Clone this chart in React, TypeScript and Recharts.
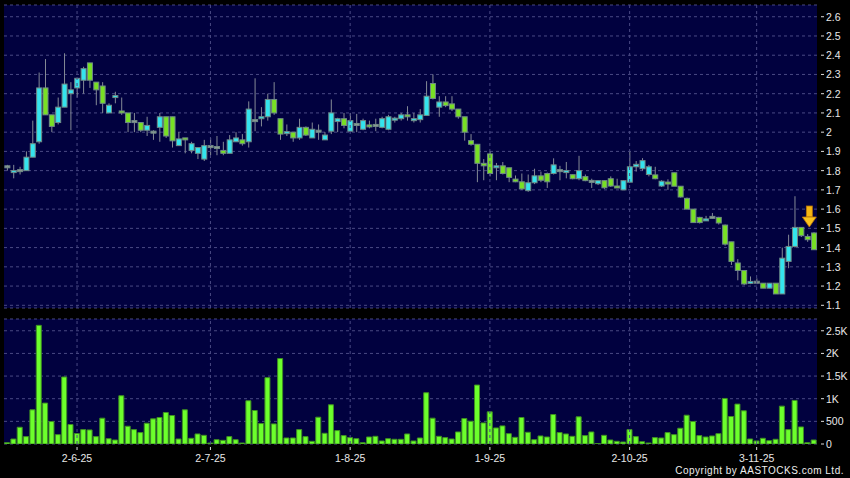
import React from "react";
import { ComposedChart, Bar, XAxis, YAxis, CartesianGrid, ReferenceLine, ReferenceDot } from "recharts";

// trading day index, 1..128
const days = Array.from({ length: 128 }, (_, i) => i + 1);

const openPx = [
  1.82, 1.79, 1.8, 1.8, 1.87, 1.95, 2.23, 2.09, 2.05, 2.13,
  2.2, 2.23, 2.27, 2.36, 2.26, 2.24, 2.1, 2.18, 2.11, 2.1,
  2.055, 2.05, 2.01, 2.0, 2.025, 2.08, 2.08, 1.93, 1.97, 1.905,
  1.89, 1.86, 1.925, 1.92, 1.905, 1.89, 1.95, 1.96, 1.95, 2.06,
  2.07, 2.08, 2.17, 2.07, 1.995, 2.0, 1.97, 2.025, 1.97, 2.005,
  1.96, 2.005, 2.055, 2.07, 2.005, 2.04, 2.015, 2.035, 2.035, 2.025,
  2.015, 2.065, 2.07, 2.09, 2.06, 2.065, 2.087, 2.253, 2.13, 2.157,
  2.147, 2.12, 2.08, 1.956, 1.937, 1.838, 1.887, 1.815, 1.825, 1.815,
  1.756, 1.742, 1.696, 1.737, 1.773, 1.785, 1.785, 1.8, 1.79, 1.779,
  1.758, 1.769, 1.744, 1.732, 1.748, 1.758, 1.72, 1.7, 1.74, 1.82,
  1.81, 1.78, 1.778, 1.72, 1.738, 1.789, 1.719, 1.656, 1.6, 1.557,
  1.54, 1.557, 1.557, 1.517, 1.43, 1.32, 1.281, 1.215, 1.22, 1.215,
  1.189, 1.215, 1.159, 1.328, 1.406, 1.505, 1.458, 1.476,
];

const highPx = [
  1.83, 1.83, 1.82, 1.9, 2.06, 2.31, 2.38, 2.09, 2.18, 2.41,
  2.26, 2.28, 2.34, 2.36, 2.26, 2.26, 2.15, 2.21, 2.18, 2.1,
  2.1, 2.05, 2.08, 2.01, 2.1, 2.08, 2.08, 2.0, 1.97, 1.95,
  1.92, 1.96, 1.97, 1.98, 1.95, 1.985, 2.0, 1.99, 2.16, 2.28,
  2.13, 2.2, 2.26, 2.07, 2.04, 2.0, 2.07, 2.03, 2.05, 2.04,
  2.0, 2.17, 2.075, 2.1, 2.1, 2.095, 2.07, 2.06, 2.07, 2.08,
  2.09, 2.08, 2.1, 2.135, 2.1, 2.12, 2.265, 2.3, 2.187, 2.187,
  2.187, 2.12, 2.08, 1.99, 1.937, 1.86, 1.9, 1.84, 1.845, 1.815,
  1.775, 1.785, 1.78, 1.81, 1.795, 1.79, 1.864, 1.825, 1.845, 1.78,
  1.877, 1.78, 1.758, 1.75, 1.75, 1.77, 1.758, 1.75, 1.9, 1.85,
  1.865, 1.83, 1.82, 1.75, 1.755, 1.79, 1.72, 1.66, 1.6, 1.56,
  1.565, 1.58, 1.56, 1.52, 1.43, 1.34, 1.281, 1.25, 1.24, 1.215,
  1.215, 1.215, 1.4, 1.467, 1.667, 1.505, 1.47, 1.48,
];

const lowPx = [
  1.8, 1.76, 1.78, 1.8, 1.87, 1.94, 2.09, 2.0, 2.04, 2.13,
  2.01, 2.18, 2.2, 2.23, 2.14, 2.1, 2.1, 2.15, 2.09, 2.0,
  2.0, 2.0, 1.98, 1.96, 1.95, 1.97, 1.92, 1.93, 1.89, 1.89,
  1.86, 1.85, 1.88, 1.88, 1.88, 1.89, 1.95, 1.93, 1.92, 2.005,
  2.03, 2.06, 2.09, 1.96, 1.98, 1.95, 1.96, 1.98, 1.97, 1.96,
  1.96, 1.99, 2.0, 2.02, 2.0, 2.0, 2.01, 2.02, 2.005, 2.02,
  2.01, 2.05, 2.06, 2.06, 2.05, 2.05, 2.087, 2.17, 2.08, 2.13,
  2.11, 2.07, 1.956, 1.93, 1.74, 1.75, 1.77, 1.75, 1.78, 1.74,
  1.74, 1.7, 1.69, 1.73, 1.74, 1.71, 1.78, 1.75, 1.76, 1.755,
  1.75, 1.745, 1.71, 1.725, 1.705, 1.715, 1.71, 1.7, 1.74, 1.795,
  1.8, 1.77, 1.755, 1.715, 1.7, 1.72, 1.66, 1.6, 1.53, 1.525,
  1.54, 1.55, 1.52, 1.41, 1.31, 1.23, 1.205, 1.21, 1.21, 1.189,
  1.189, 1.159, 1.159, 1.293, 1.4, 1.455, 1.43, 1.389,
];

const closePx = [
  1.82, 1.8, 1.8, 1.87, 1.94, 2.23, 2.09, 2.03, 2.13, 2.25,
  2.22, 2.28, 2.33, 2.27, 2.22, 2.15, 2.14, 2.19, 2.1, 2.05,
  2.055, 2.01, 2.035, 2.0, 2.08, 1.98, 1.955, 1.965, 1.96, 1.94,
  1.92, 1.93, 1.925, 1.92, 1.89, 1.96, 1.97, 1.94, 2.12, 2.06,
  2.08, 2.17, 2.1, 1.99, 2.0, 1.97, 2.025, 1.985, 2.015, 2.005,
  1.985, 2.1, 2.07, 2.035, 2.06, 2.04, 2.06, 2.03, 2.035, 2.07,
  2.08, 2.07, 2.09, 2.08, 2.07, 2.09, 2.187, 2.175, 2.157, 2.138,
  2.12, 2.08, 2.0, 1.937, 1.838, 1.825, 1.785, 1.825, 1.785, 1.765,
  1.742, 1.705, 1.737, 1.773, 1.75, 1.742, 1.83, 1.8, 1.8, 1.758,
  1.8, 1.748, 1.744, 1.748, 1.711, 1.72, 1.71, 1.748, 1.82, 1.833,
  1.852, 1.82, 1.758, 1.745, 1.733, 1.719, 1.663, 1.6, 1.53, 1.53,
  1.548, 1.557, 1.528, 1.418, 1.328, 1.281, 1.211, 1.223, 1.22, 1.189,
  1.215, 1.159, 1.345, 1.406, 1.505, 1.462, 1.441, 1.389,
];

// volume in thousands of shares
const volume = [
  30, 110, 370, 163, 755, 2620, 903, 496, 207, 1480,
  430, 230, 318, 311, 163, 570, 118, 89, 1066, 392,
  318, 252, 459, 555, 585, 696, 629, 111, 755, 126,
  222, 192, 22, 96, 81, 163, 96, 22, 955, 740,
  451, 1465, 444, 1887, 133, 133, 318, 163, 59, 592,
  237, 866, 296, 185, 141, 118, 30, 155, 170, 67,
  118, 104, 104, 222, 67, 133, 1132, 570, 170, 141,
  111, 266, 562, 503, 1302, 466, 710, 355, 400, 229,
  148, 585, 259, 96, 178, 155, 651, 252, 222, 170,
  600, 185, 266, 10, 192, 89, 59, 44, 318, 163,
  52, 22, 141, 133, 252, 207, 348, 636, 496, 185,
  155, 178, 229, 1006, 607, 881, 733, 111, 67, 126,
  74, 104, 836, 318, 962, 377, 30, 89,
];

const labelDays = [12, 33, 55, 77, 99, 119];
const labelText = ["2-6-25", "2-7-25", "1-8-25", "1-9-25", "2-10-25", "3-11-25"];

const priceTicks = [1.1, 1.2, 1.3, 1.4, 1.5, 1.6, 1.7, 1.8, 1.9, 2, 2.1, 2.2, 2.3, 2.4, 2.5, 2.6];
const volTicks = [0, 500, 1000, 1500, 2000, 2500];

const rows = days.map((d, i) => ({
  day: d,
  o: openPx[i],
  h: highPx[i],
  l: lowPx[i],
  c: closePx[i],
  v: volume[i],
}));

const NAVY = "#01013f";
const GRID = "#4a4a84";
const FONT = "'Liberation Sans', Arial, sans-serif";

const Candle = (props: any) => {
  const { x, y, width, height, payload } = props;
  const { o, h, l, c } = payload;
  const hgt = Math.abs(height);
  const top = height >= 0 ? y : y + height;
  const k = hgt / (h - l);
  const yo = top + (h - o) * k;
  const yc = top + (h - c) * k;
  const cx = x + width / 2;
  let fill = "#8e9a94";
  if (c > o) fill = "#34e4ee";
  if (c < o) fill = "#78e024";
  let bTop = Math.min(yo, yc);
  let bH = Math.abs(yo - yc);
  if (bH < 2) {
    bTop = (yo + yc) / 2 - 1;
    bH = 2;
  }
  return (
    <g>
      <line x1={cx} x2={cx} y1={top} y2={top + hgt} stroke="#858b96" strokeWidth={1} />
      <rect x={x + 0.5} y={bTop} width={width - 1} height={bH} fill={fill} stroke="#6f8a86" strokeWidth={1} />
    </g>
  );
};

const RightTick = (props: any) => {
  const { x, y, payload, fmt } = props;
  return (
    <g>
      <line x1={x + 4} x2={x + 7} y1={y} y2={y} stroke="#dddddd" />
      <text x={x + 9} y={y} dy={4} fill="#e8e8e8" fontSize={10.5} fontFamily={FONT}>
        {fmt(payload.value)}
      </text>
    </g>
  );
};

const DateTick = (props: any) => {
  const { x, y, payload } = props;
  const i = labelDays.indexOf(payload.value);
  if (i < 0) return <g />;
  return (
    <g>
      <line x1={x} x2={x} y1={y + 3} y2={y + 6} stroke="#dddddd" />
      <text x={x} y={y + 18} textAnchor="middle" fill="#e8e8e8" fontSize={10.5} fontFamily={FONT}>
        {labelText[i]}
      </text>
    </g>
  );
};

const Arrow = (props: any) => {
  const { cx, cy } = props;
  const t = cx - 4.5;
  return (
    <g>
      <rect x={t - 3} y={cy - 21} width={6} height={11} fill="#f6b612" stroke="#b8740a" strokeWidth={0.8} />
      <polygon points={`${t - 7},${cy - 10} ${t + 7},${cy - 10} ${t},${cy}`} fill="#f9c21c" stroke="#b8740a" strokeWidth={0.8} />
    </g>
  );
};

export default function App() {
  return (
    <div style={{ position: "absolute", left: 0, top: 0, width: 850, height: 478, background: "#000" }}>
      <ComposedChart width={850} height={310} data={rows} margin={{ top: 5, right: 0, left: 4, bottom: 2 }} barCategoryGap="6%">
        <CartesianGrid vertical={false} stroke={GRID} strokeDasharray="3 3" fill={NAVY} />
        <XAxis dataKey="day" hide />
        <YAxis
          orientation="right"
          width={33}
          domain={[1.086, 2.661]}
          ticks={priceTicks}
          interval={0}
          allowDataOverflow
          axisLine={false}
          tickLine={false}
          tickSize={0}
          tickMargin={0}
          tick={<RightTick fmt={(v: number) => String(Number(v.toFixed(1)))} />}
        />
        {labelDays.map((d) => (
          <ReferenceLine key={d} x={d} stroke={GRID} strokeDasharray="3 3" />
        ))}
        <Bar dataKey={(d: any) => [d.l, d.h]} shape={<Candle />} isAnimationActive={false} />
        <ReferenceDot x={128} y={1.507} r={0} ifOverflow="visible" shape={(p: any) => <Arrow {...p} />} />
      </ComposedChart>
      <ComposedChart width={850} height={168} data={rows} margin={{ top: 9, right: 0, left: 4, bottom: 0 }} barCategoryGap="8%">
        <CartesianGrid vertical={false} stroke={GRID} strokeDasharray="3 3" fill={NAVY} />
        <XAxis
          dataKey="day"
          interval={0}
          height={34}
          axisLine={false}
          tickLine={false}
          tickSize={0}
          tickMargin={0}
          tick={<DateTick />}
        />
        <YAxis
          orientation="right"
          width={33}
          domain={[0, 2760]}
          ticks={volTicks}
          interval={0}
          allowDataOverflow
          axisLine={false}
          tickLine={false}
          tickSize={0}
          tickMargin={0}
          tick={<RightTick fmt={(v: number) => (v >= 1000 ? `${v / 1000}K` : String(v))} />}
        />
        {labelDays.map((d) => (
          <ReferenceLine key={d} x={d} stroke={GRID} strokeDasharray="3 3" />
        ))}
        <Bar dataKey="v" fill="#6cff2c" stroke="#3f8f22" strokeWidth={1} isAnimationActive={false} />
      </ComposedChart>
      <div
        style={{
          position: "absolute",
          right: 6,
          top: 465,
          fontSize: 10,
          fontFamily: FONT,
          color: "#eeeeee",
          letterSpacing: 0.5,
          whiteSpace: "nowrap",
        }}
      >
        Copyright by AASTOCKS.com Ltd.
      </div>
    </div>
  );
}
